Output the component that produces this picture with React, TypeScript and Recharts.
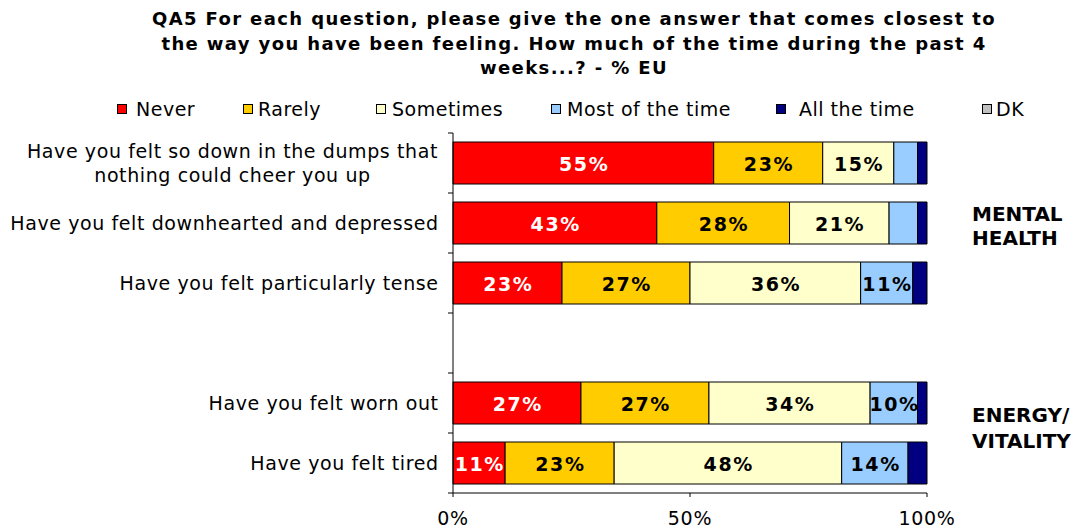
import { BarChart, Bar, XAxis, YAxis, Legend, LabelList } from 'recharts';

const questions = [
  'Have you felt so down in the dumps that\nnothing could cheer you up',
  'Have you felt downhearted and depressed',
  'Have you felt particularly tense',
  '',
  'Have you felt worn out',
  'Have you felt tired',
];
const never = [55, 43, 23, null, 27, 11];
const rarely = [23, 28, 27, null, 27, 23];
const sometimes = [15, 21, 36, null, 34, 48];
const mostOfTheTime = [5, 6, 11, null, 10, 14];
const allTheTime = [2, 2, 3, null, 2, 4];
const dk = [0, 0, 0, null, 0, 0];

const xTicks = [0, 50, 100];
const groupLabels = ['MENTAL\nHEALTH', 'ENERGY/\nVITALITY'];
const titleLines = [
  'QA5 For each question, please give the one answer that comes closest to',
  'the way you have been feeling. How much of the time during the past 4',
  'weeks...? - % EU',
];

const series = [
  { key: 'never', name: 'Never', color: '#FF0000', text: '#FFFFFF' },
  { key: 'rarely', name: 'Rarely', color: '#FFCC00', text: '#000000' },
  { key: 'sometimes', name: 'Sometimes', color: '#FFFFCC', text: '#000000' },
  { key: 'most', name: 'Most of the time', color: '#99CCFF', text: '#000000' },
  { key: 'all', name: 'All the time', color: '#000080', text: '#FFFFFF' },
  { key: 'dk', name: 'DK', color: '#C0C0C0', text: '#000000' },
];

const data = questions.map((q, i) => ({
  name: q,
  never: never[i],
  rarely: rarely[i],
  sometimes: sometimes[i],
  most: mostOfTheTime[i],
  all: allTheTime[i],
  dk: dk[i],
}));

// Verdana-ish look: DejaVu Sans with a bit of extra tracking
const FONT = '"DejaVu Sans", Verdana, sans-serif';
const W = 1083;
const H = 529;
const PLOT_LEFT = 453;
const PLOT_RIGHT = 927;
const PLOT_TOP = 133;
const PLOT_BOTTOM = 493;
const BAND = (PLOT_BOTTOM - PLOT_TOP) / questions.length;
const LABEL_LS = 0.6;

// layout of the legend entries (square x, text x)
const legendSquareX = [117, 243, 376, 551, 776, 982];
const legendTextX = [136, 258, 392, 567, 799, 996];

let canvas: HTMLCanvasElement | null = null;
function textWidth(text: string, font: string) {
  if (!canvas) canvas = document.createElement('canvas');
  const ctx = canvas.getContext('2d');
  if (!ctx) return text.length * 10;
  ctx.font = font;
  return ctx.measureText(text).width + text.length * LABEL_LS;
}

function QuestionTick(props: any) {
  const { y, payload, index } = props;
  const lines = String(payload.value).split('\n').filter((l) => l.length);
  const right = 438;
  const font = `19px ${FONT}`;
  const blockW = Math.max(0, ...lines.map((l) => textWidth(l, font)));
  const cx = right - blockW / 2;
  const lh = 24;
  return (
    <g>
      <line x1={PLOT_LEFT - 5} x2={PLOT_LEFT} y1={y - BAND / 2} y2={y - BAND / 2} stroke="#000" />
      {index === questions.length - 1 && (
        <line x1={PLOT_LEFT - 5} x2={PLOT_LEFT} y1={y + BAND / 2} y2={y + BAND / 2} stroke="#000" />
      )}
      {lines.map((l, i) => (
        <text
          key={i}
          x={lines.length > 1 ? cx : right + LABEL_LS}
          y={y + (i - (lines.length - 1) / 2) * lh}
          textAnchor={lines.length > 1 ? 'middle' : 'end'}
          dominantBaseline="central"
          fontSize={19}
          fontFamily={FONT}
          letterSpacing={LABEL_LS}
          fill="#000"
        >
          {l}
        </text>
      ))}
    </g>
  );
}

function makeLabel(color: string) {
  return (props: any) => {
    const { x, y, width, height, value } = props;
    if (value == null || value < 10) return null;
    return (
      <text
        x={x + width / 2 + 0.8}
        y={y + height / 2 + 1}
        textAnchor="middle"
        dominantBaseline="central"
        fontSize={19}
        fontWeight="bold"
        fontFamily={FONT}
        letterSpacing={1.6}
        fill={color}
      >
        {`${value}%`}
      </text>
    );
  };
}

function LegendContent() {
  return (
    <div style={{ position: 'relative', width: W, height: 24, fontFamily: FONT, fontSize: 19, letterSpacing: 0.5 }}>
      {series.map((s, i) => (
        <div key={s.key}>
          <div
            style={{
              position: 'absolute',
              left: legendSquareX[i],
              top: 7,
              width: 8,
              height: 8,
              background: s.color,
              border: '1px solid #000',
            }}
          />
          <div style={{ position: 'absolute', left: legendTextX[i], top: 0, lineHeight: '24px', whiteSpace: 'nowrap', color: '#000' }}>
            {s.name}
          </div>
        </div>
      ))}
    </div>
  );
}

export default function App() {
  return (
    <div style={{ position: 'absolute', left: 0, top: 0, width: W, height: H, background: '#fff', fontFamily: FONT }}>
      <div
        style={{
          position: 'absolute',
          left: 74,
          top: 7,
          width: 1000,
          textAlign: 'center',
          fontWeight: 'bold',
          fontSize: 18,
          letterSpacing: 1.38,
          lineHeight: '24.5px',
          color: '#000',
        }}
      >
        {titleLines.map((t, i) => (
          <div key={i}>{t}</div>
        ))}
      </div>
      <BarChart
        width={W}
        height={H}
        data={data}
        layout="vertical"
        margin={{ top: PLOT_TOP, right: W - PLOT_RIGHT, bottom: 6, left: 0 }}
        barSize={42}
      >
        <XAxis
          type="number"
          domain={[0, 100]}
          ticks={xTicks}
          tickFormatter={(v: number) => `${v}%`}
          axisLine={{ stroke: '#000' }}
          tickLine={{ stroke: '#000' }}
          tickSize={4}
          tickMargin={15}
          height={30}
          tick={{ fontSize: 19, fill: '#000', fontFamily: FONT, letterSpacing: 0.7 }}
        />
        <YAxis
          type="category"
          dataKey="name"
          width={PLOT_LEFT}
          axisLine={{ stroke: '#000' }}
          tickLine={false}
          interval={0}
          tick={<QuestionTick />}
        />
        <Legend
          layout="horizontal"
          verticalAlign="middle"
          align="center"
          wrapperStyle={{ top: 97, left: 0, width: W }}
          content={<LegendContent />}
        />
        {series.map((s) => (
          <Bar
            key={s.key}
            dataKey={s.key}
            name={s.name}
            stackId="a"
            fill={s.color}
            stroke="#000"
            strokeWidth={1}
            isAnimationActive={false}
          >
            <LabelList dataKey={s.key} content={makeLabel(s.text)} />
          </Bar>
        ))}
      </BarChart>
      {groupLabels.map((g, i) => (
        <div
          key={i}
          style={{
            position: 'absolute',
            left: 972,
            top: i === 0 ? 202 : 402,
            fontWeight: 'bold',
            fontSize: 20,
            lineHeight: i === 0 ? '24px' : '26px',
            whiteSpace: 'pre',
            color: '#000',
          }}
        >
          {g}
        </div>
      ))}
    </div>
  );
}
